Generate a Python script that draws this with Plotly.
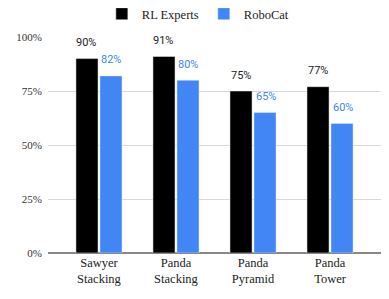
import plotly.graph_objects as go

categories = ["Sawyer<br>Stacking", "Panda<br>Stacking", "Panda<br>Pyramid", "Panda<br>Tower"]
rl_experts = [0.90, 0.91, 0.75, 0.77]
robocat = [0.82, 0.80, 0.65, 0.60]
y_ticks = [0, 0.25, 0.5, 0.75, 1.0]
y_tick_labels = ["0%", "25%", "50%", "75%", "100%"]

BLACK = "#000000"
BLUE = "#4285F4"
SERIF = "Liberation Serif"
SANS = "Roboto"

fig = go.Figure()
fig.add_trace(go.Bar(name="RL Experts", x=categories, y=rl_experts, marker_color=BLACK))
fig.add_trace(go.Bar(name="RoboCat", x=categories, y=robocat, marker_color=BLUE))

annotations = []
for c, v in zip(categories, rl_experts):
    annotations.append(dict(x=c, y=v, xref="x", yref="y", text=f"{round(v*100)}%",
                            showarrow=False, xshift=-12.5, yshift=16,
                            font=dict(family=SANS, size=11, color="#222222")))
for c, v in zip(categories, robocat):
    annotations.append(dict(x=c, y=v, xref="x", yref="y", text=f"{round(v*100)}%",
                            showarrow=False, xshift=12.5, yshift=16,
                            font=dict(family=SANS, size=11, color=BLUE)))

fig.update_layout(
    width=373, height=283,
    margin=dict(l=40, r=0, t=29, b=38, autoexpand=False),
    paper_bgcolor="white", plot_bgcolor="white",
    barmode="group", bargap=0.377, bargroupgap=0.08,
    font=dict(family=SERIF, size=12, color="#333333"),
    legend=dict(orientation="h", x=0.45, xanchor="center", y=1.106, yanchor="middle",
                font=dict(family=SERIF, size=12.5, color="#222222"),
                itemwidth=30, traceorder="normal"),
    annotations=annotations,
    showlegend=True,
)
fig.update_xaxes(range=[-0.662, 3.662], showgrid=False, showline=False, zeroline=False,
                 automargin=False,
                 tickfont=dict(family=SERIF, size=12.5, color="#222222"), ticks="")
fig.update_yaxes(range=[0, 1], tickvals=y_ticks, ticktext=y_tick_labels,
                 showgrid=True, gridcolor="#d9d9d9", gridwidth=1,
                 zeroline=True, zerolinecolor="#888888", zerolinewidth=1.5,
                 showline=False, ticks="", automargin=False, ticklabelstandoff=5,
                 tickfont=dict(family=SERIF, size=11, color="#333333"))

fig.write_html("out.html")
